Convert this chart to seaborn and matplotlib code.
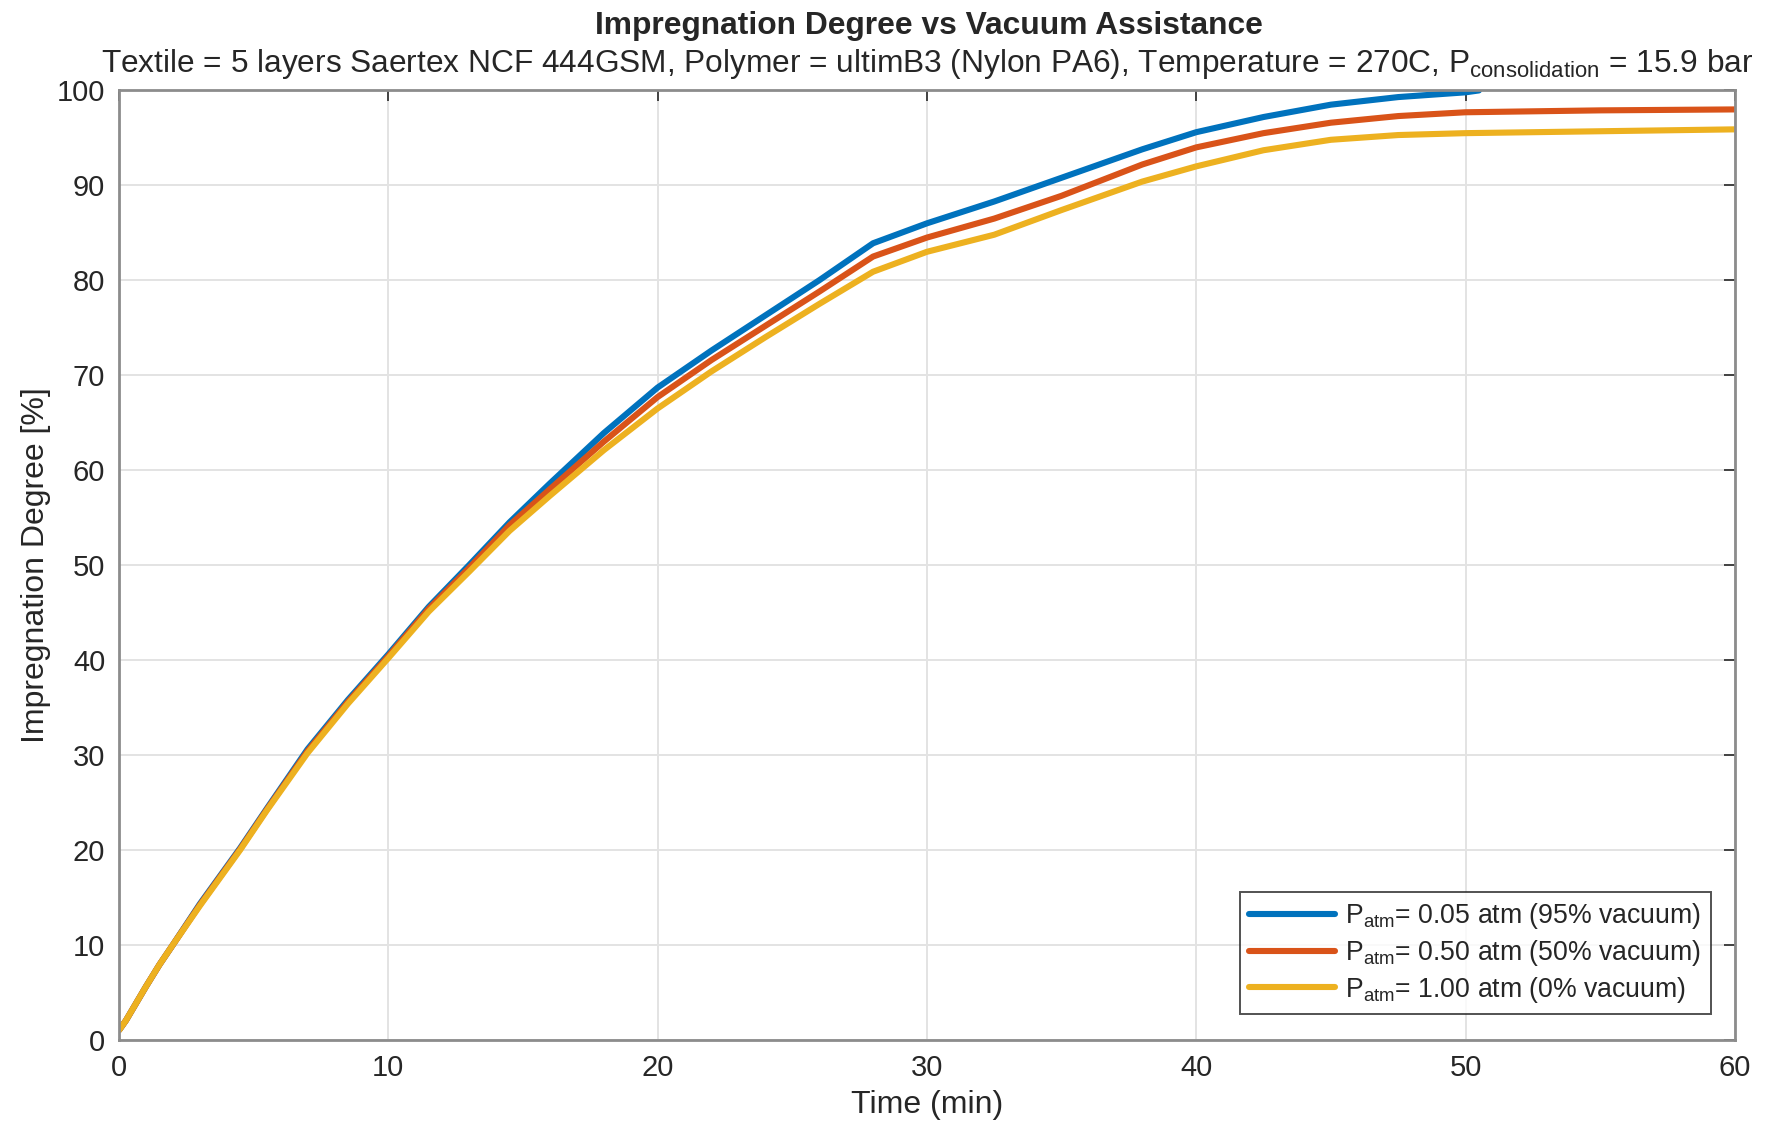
import numpy as np
import pandas as pd
import matplotlib
matplotlib.use("Agg")
import matplotlib.pyplot as plt
import seaborn as sns

# time axis (min) and impregnation degree (%)
time_blue = [0, 0.25, 1, 1.5, 2, 3, 4.5, 5.5, 7, 8.5, 10, 11.5, 13, 14.5, 16, 18, 20, 22, 24, 26, 28,
             30, 32.5, 35, 38, 40, 42.5, 45, 47.5, 50, 50.5]
deg_blue = [1.0, 2.0, 5.6, 7.9, 10.0, 14.3, 20.2, 24.4, 30.6, 35.8, 40.6, 45.6, 50.0, 54.5, 58.6, 63.9,
            68.7, 72.6, 76.3, 80.0, 83.9, 86.0, 88.3, 90.8, 93.8, 95.6, 97.2, 98.5, 99.3, 99.8, 100.0]

time_other = [0, 0.25, 1, 1.5, 2, 3, 4.5, 5.5, 7, 8.5, 10, 11.5, 13, 14.5, 16, 18, 20, 22, 24, 26, 28,
              30, 32.5, 35, 38, 40, 42.5, 45, 47.5, 50, 55, 60]
deg_orange = [1.0, 2.0, 5.6, 7.9, 10.0, 14.2, 20.1, 24.3, 30.4, 35.6, 40.4, 45.4, 49.7, 54.2, 58.0, 63.0,
              67.7, 71.6, 75.2, 78.8, 82.5, 84.5, 86.5, 88.9, 92.2, 94.0, 95.5, 96.6, 97.3, 97.7, 97.9, 98.0]
deg_yellow = [1.0, 2.0, 5.6, 7.9, 10.0, 14.1, 20.0, 24.2, 30.2, 35.4, 40.2, 45.1, 49.3, 53.6, 57.3, 62.1,
              66.5, 70.4, 74.0, 77.5, 80.9, 83.0, 84.8, 87.4, 90.4, 92.0, 93.7, 94.8, 95.3, 95.5, 95.7, 95.9]

labels = [r"P$_{\mathrm{atm}}$= 0.05 atm (95% vacuum)",
          r"P$_{\mathrm{atm}}$= 0.50 atm (50% vacuum)",
          r"P$_{\mathrm{atm}}$= 1.00 atm (0% vacuum)"]
colors = ["#0072BD", "#D95319", "#EDB120"]

df = pd.concat([
    pd.DataFrame({"time": time_blue, "deg": deg_blue, "case": labels[0]}),
    pd.DataFrame({"time": time_other, "deg": deg_orange, "case": labels[1]}),
    pd.DataFrame({"time": time_other, "deg": deg_yellow, "case": labels[2]}),
])

sns.set_style("white")
plt.rcParams["font.family"] = ["Liberation Sans", "DejaVu Sans"]
plt.rcParams["mathtext.fontset"] = "custom"
plt.rcParams["mathtext.rm"] = "Liberation Sans"
plt.rcParams["mathtext.it"] = "Liberation Sans"

fig = plt.figure(figsize=(8.86, 5.61), dpi=200)
ax = fig.add_axes([0.0672, 0.0734, 0.9118, 0.846])

sns.lineplot(data=df, x="time", y="deg", hue="case", hue_order=labels,
             palette=colors, linewidth=2.2, sort=False, ax=ax)

ax.set_xlim(0, 60)
ax.set_ylim(0, 100)
ax.set_xticks(np.arange(0, 61, 10))
ax.set_yticks(np.arange(0, 101, 10))
ax.grid(True, color="#e3e3e3", linewidth=0.7)
ax.set_axisbelow(True)
ax.tick_params(direction="in", top=True, right=True, length=4, width=0.6,
               color="#262626", labelsize=10.5, labelcolor="#262626", pad=5)
for sp in ax.spines.values():
    sp.set_color("#8c8c8c")
    sp.set_linewidth(1.0)

ax.set_xlabel("Time (min)", fontsize=11.5, color="#262626", labelpad=3)
ax.set_ylabel("Impregnation Degree [%]", fontsize=11.5, color="#262626", labelpad=2)

fig.text(0.524, 0.977, "Impregnation Degree vs Vacuum Assistance",
         ha="center", va="center", fontsize=11.45, fontweight="bold", color="#262626")
fig.text(0.523, 0.943,
         r"Textile = 5 layers Saertex NCF 444GSM, Polymer = ultimB3 (Nylon PA6), Temperature = 270C, P$_{\mathrm{consolidation}}$ = 15.9 bar",
         ha="center", va="center", fontsize=11.4, color="#262626")

leg = ax.legend(loc="lower right", bbox_to_anchor=(0.985, 0.027), fontsize=9.6,
                frameon=True, fancybox=False, handlelength=3.2, borderpad=0.35,
                labelspacing=0.25, handletextpad=0.4, borderaxespad=0)
leg.get_frame().set_edgecolor("#262626")
leg.get_frame().set_linewidth(0.7)
for t in leg.get_texts():
    t.set_color("#262626")

fig.savefig("out.png", dpi=200)
